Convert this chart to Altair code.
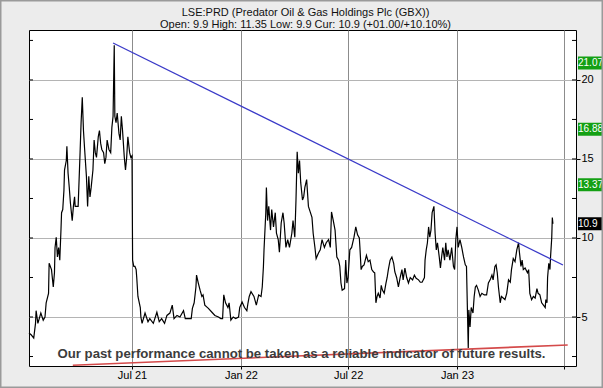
import altair as alt
import pandas as pd

# ---------------- data ----------------
start_date = "2021-01-08"
day_offsets = [0,4,8,11,12,15,20,24,27,29,33,34,38,41,43,44,46,48,50,52,54,55,57,59,60,63,64,66,68,70,73,75,77,78,83,86,87,88,90,92,94,97,99,101,103,105,108,110,112,114,117,119,121,123,126,128,130,132,135,138,140,142,144,145,147,149,152,154,156,158,161,163,165,167,170,172,174,175,177,179,181,182,184,188,189,191,196,201,204,210,216,220,224,229,233,238,242,245,250,255,261,264,269,274,276,279,282,283,286,289,292,294,297,303,309,314,320,324,327,329,332,336,338,341,345,349,354,356,360,364,368,370,372,375,380,384,388,392,394,396,397,400,401,403,405,408,410,413,416,418,421,423,426,429,431,434,437,440,444,446,449,451,453,455,457,459,462,464,466,469,472,475,478,480,483,485,489,492,495,499,502,506,509,511,514,517,520,523,525,527,529,533,535,537,539,542,545,549,552,555,558,559,561,563,566,570,573,576,579,582,584,586,588,590,593,595,597,600,603,605,607,610,613,616,618,621,624,627,630,632,635,638,641,644,648,651,654,658,661,664,668,669,671,673,675,677,679,681,684,686,688,690,693,695,697,699,702,704,706,708,711,714,717,719,721,723,725,728,731,734,737,739,742,743,745,747,750,752,754,756,759,762,765,769,773,776,779,782,784,787,789,791,793,796,798,801,804,807,810,813,815,818,821,824,827,828,831,833,835,838,842,844,846,849,852,855,858,860,863,866,869,872,873,875,876,878,880,881,883,884,885]
prices = [3.99,3.86,3.67,4.6,5.4,4.6,5.25,4.8,5.0,5.9,6.5,8.4,8.0,6.9,7.8,9.4,10.05,8.8,9.4,8.6,10.5,11.6,11.8,13.0,14.3,14.9,15.8,14.1,13.2,12.2,11.1,12.0,12.6,12.0,12.0,15.1,16.2,17.3,18.9,16.8,15.6,13.9,12.0,13.9,12.6,13.2,14.3,16.2,15.4,15.1,16.4,16.8,16.0,15.6,15.4,14.7,15.1,16.2,15.6,15.4,17.0,17.7,22.2,17.7,17.3,17.9,16.6,16.2,17.7,16.8,15.1,14.3,15.1,16.4,15.4,15.1,15.2,8.6,8.2,8.2,8.0,7.5,6.3,5.6,5.0,4.6,5.25,4.7,4.9,4.6,5.3,4.7,4.9,4.6,5.1,5.25,5.75,4.9,5.1,5.0,5.4,4.9,4.9,4.9,5.55,5.9,6.9,7.65,7.15,6.7,6.3,6.4,5.75,5.55,5.3,5.1,5.0,4.9,4.9,6.4,5.9,5.6,5.9,4.8,5.0,4.9,5.0,5.6,5.95,5.6,5.4,5.9,6.3,6.6,6.3,5.75,6.4,6.3,6.9,8.2,9.25,11.6,13.2,11.1,12.0,10.5,11.8,10.7,11.6,10.3,9.9,9.1,10.95,11.6,10.95,9.4,9.9,9.4,10.3,11.1,10.05,12.4,15.45,14.1,14.9,13.5,12.4,12.6,13.2,13.7,12.0,11.65,11.3,10.3,9.4,8.7,9.05,9.25,9.9,9.4,9.7,9.9,9.4,11.65,11.1,10.5,8.8,8.6,8.2,7.15,6.7,6.8,8.6,7.15,7.5,9.25,9.4,10.05,10.7,10.2,10.0,9.4,8.0,8.2,8.3,8.9,8.5,8.6,8.0,7.85,7.8,5.9,6.3,6.5,6.2,7.0,6.7,6.5,7.15,7.5,8.0,8.6,8.8,8.4,7.85,7.5,6.9,7.5,8.0,7.35,8.1,7.5,7.15,7.5,7.35,7.65,7.45,7.35,7.2,7.2,7.5,8.6,9.25,9.7,10.7,10.05,10.5,11.6,12.0,10.3,9.25,9.7,8.8,8.1,8.8,9.4,8.6,9.7,8.8,9.25,8.6,9.4,8.2,8.0,9.9,10.7,9.4,9.9,9.4,8.8,8.3,8.2,3.04,5.45,4.37,5.6,5.25,6.3,6.9,7.0,6.7,6.3,6.5,6.4,6.4,7.15,7.35,7.65,7.35,8.2,8.3,7.8,6.9,5.9,6.3,6.2,6.1,6.5,7.35,7.2,8.0,8.7,8.5,9.25,9.7,9.25,8.2,8.6,8.0,8.1,7.8,8.0,6.5,6.1,6.3,6.2,6.8,6.5,6.4,5.9,5.75,5.6,6.1,5.9,7.5,8.4,8.0,8.8,10.0,11.3,10.9]

resist_dates = ["2021-05-30", "2023-06-29"]
resist_values = [22.34, 8.29]
support_dates = ["2021-03-23", "2023-07-07"]
support_values = [1.95, 3.23]

level_values = [21.07, 16.88, 13.37, 10.9]
level_labels = ["21.07", "16.88", "13.37", "10.9"]
level_kinds = ["target", "target", "target", "current"]

tick_values = [2.5, 5, 7.5, 10, 12.5, 15, 17.5, 20, 22.5]
major_ticks = [5, 10, 15, 20]
x_tick_dates = [(2021, 7), (2022, 1), (2022, 7), (2023, 1), (2023, 7)]

title_line1 = "LSE:PRD (Predator Oil & Gas Holdings Plc (GBX))"
title_line2 = "Open: 9.9 High: 11.35 Low: 9.9 Cur: 10.9 (+01.00/+10.10%)"
disclaimer = "Our past performance cannot be taken as a reliable indicator of future results."

# ---------------- tables ----------------
t0 = pd.Timestamp(start_date)
price_df = pd.DataFrame({
    "date": [(t0 + pd.Timedelta(days=d)).strftime("%Y-%m-%d") for d in day_offsets],
    "price": prices,
})
resist_df = pd.DataFrame({"date": resist_dates, "price": resist_values})
support_df = pd.DataFrame({"date": support_dates, "price": support_values})
level_df = pd.DataFrame({"price": level_values, "label": level_labels, "kind": level_kinds})
tick_df = pd.DataFrame({"price": tick_values})

W, H = 547, 336
FONT = "Liberation Sans"

xscale = alt.Scale(type="utc", domain=[alt.DateTime(year=2021, month=1, date=8, utc=True),
                                       alt.DateTime(year=2023, month=7, date=21, utc=True)])
yscale = alt.Scale(domain=[1.9, 23.16], zero=False, nice=False)

x_axis = alt.Axis(
    values=[alt.DateTime(year=y, month=m, date=1, utc=True) for y, m in x_tick_dates],
    labelExpr="datum.value > 1685000000000 ? '' : utcFormat(datum.value, '%b %y')",
    grid=True, gridColor="#8c8c8c", gridWidth=1, domain=False,
    tickSize=3, tickColor="#000", labelFontSize=11, labelFont=FONT, labelColor="#000",
    labelPadding=0, title=None,
)
y_axis = alt.Axis(
    orient="right", values=major_ticks, grid=True, gridColor="#b4b4b4", domain=False,
    tickSize=4, tickColor="#000", labelFontSize=11, labelFont=FONT, labelColor="#000",
    labelPadding=1, title=None,
)

price_line = alt.Chart(price_df).mark_line(color="#000", strokeWidth=1.2).encode(
    x=alt.X("date:T", scale=xscale, axis=x_axis),
    y=alt.Y("price:Q", scale=yscale, axis=y_axis),
)

resist_line = alt.Chart(resist_df).mark_line(color="#3a3ac8", strokeWidth=1.3).encode(
    x=alt.X("date:T", scale=xscale), y=alt.Y("price:Q", scale=yscale))

support_line = alt.Chart(support_df).mark_line(color="#d44a4a", strokeWidth=1.6).encode(
    x=alt.X("date:T", scale=xscale), y=alt.Y("price:Q", scale=yscale))

left_ticks = alt.Chart(tick_df).mark_rule(color="#000").encode(
    x=alt.value(0), x2=alt.value(4), y=alt.Y("price:Q", scale=yscale))
right_ticks = alt.Chart(tick_df).mark_rule(color="#000").encode(
    x=alt.value(W - 4), x2=alt.value(W), y=alt.Y("price:Q", scale=yscale))

box_h = 0.41
level_boxes = alt.Chart(level_df).transform_calculate(
    lo=f"datum.price - {box_h}", hi=f"datum.price + {box_h}"
).mark_rect().encode(
    x=alt.value(W + 2), x2=alt.value(W + 40),
    y=alt.Y("lo:Q", scale=yscale), y2="hi:Q",
    color=alt.Color("kind:N", scale=alt.Scale(domain=["target", "current"],
                                              range=["#14a014", "#000000"]), legend=None),
)
level_text = alt.Chart(level_df).mark_text(
    align="left", baseline="middle", color="#fff", fontSize=10, font=FONT
).encode(x=alt.value(W + 2), y=alt.Y("price:Q", scale=yscale), text="label:N")

def title_layer(line, ypos):
    return alt.Chart(pd.DataFrame({"t": [line]})).mark_text(
        align="center", baseline="alphabetic", fontSize=11, font=FONT, color="#111"
    ).encode(x=alt.value(W / 2 + 3), y=alt.value(ypos), text="t:N")

title1 = title_layer(title_line1, -14.5)
title2 = title_layer(title_line2, -2.5)

disclaimer_text = alt.Chart(pd.DataFrame({"t": [disclaimer]})).mark_text(
    align="center", baseline="middle", fontSize=13.2, fontWeight="bold",
    font=FONT, color="#3c3c3c"
).encode(x=alt.value(W / 2 - 1), y=alt.value(H - 12), text="t:N")

frame = alt.Chart(pd.DataFrame({"a": [0]})).mark_rect(
    fill=None, stroke="#9a9a9a", strokeWidth=3
).encode(x=alt.value(-29), x2=alt.value(W + 27), y=alt.value(-30), y2=alt.value(H + 22))

chart = alt.layer(
    price_line, resist_line, support_line, left_ticks, right_ticks,
    level_boxes, level_text, disclaimer_text, title1, title2, frame,
).properties(
    width=W, height=H,
    autosize=alt.AutoSizeParams(type="none"),
    padding={"left": 29, "top": 30, "right": 27, "bottom": 22},
    background="#ececec",
).configure_view(
    stroke="#000", strokeWidth=1, fill="#ffffff"
)

chart.save("out.html", embed_options={"renderer": "svg", "actions": False})
